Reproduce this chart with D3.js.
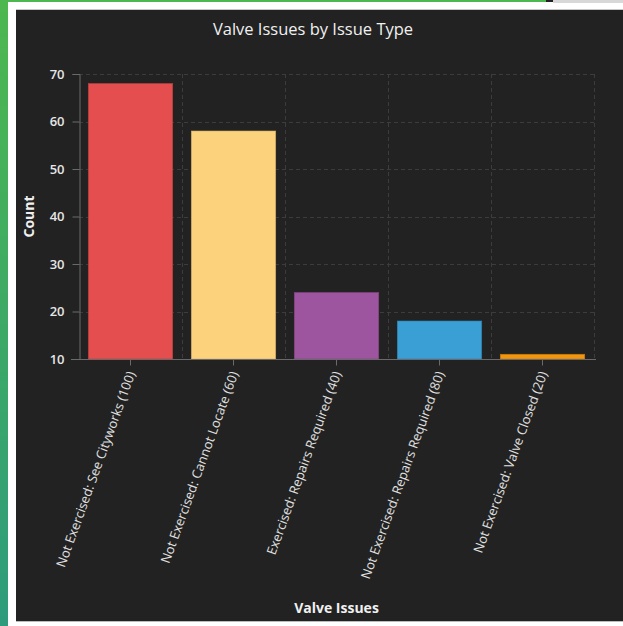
<!DOCTYPE html>
<html>
<head>
<meta charset="utf-8">
<script src="https://cdn.jsdelivr.net/npm/d3@7/dist/d3.min.js"></script>
<style>
html,body{margin:0;padding:0;background:#fff;overflow:hidden;}
svg{display:block;}
</style>
</head>
<body>
<script>
const categories = [
  "Not Exercised: See Cityworks (100)",
  "Not Exercised: Cannot Locate (60)",
  "Exercised: Repairs Required (40)",
  "Not Exercised: Repairs Required (80)",
  "Not Exercised: Valve Closed (20)"
];
const counts = [68, 58, 24, 18, 11];
const barColors = ["#e54e4e", "#fcd27c", "#9e55a0", "#3a9fd4", "#f2960e"];
const yTicks = [10, 20, 30, 40, 50, 60, 70];
const chartTitle = "Valve Issues by Issue Type";
const xTitle = "Valve Issues";
const yTitle = "Count";

const W = 623, H = 626;
const svg = d3.select("body").append("svg").attr("width", W).attr("height", H);

// page frame
const defs = svg.append("defs");
const lg = defs.append("linearGradient").attr("id","gstrip").attr("x1",0).attr("y1",0).attr("x2",0).attr("y2",1);
lg.append("stop").attr("offset","0%").attr("stop-color","#4db84f");
lg.append("stop").attr("offset","100%").attr("stop-color","#2e9c7c");
svg.append("rect").attr("x",0).attr("y",0).attr("width",W).attr("height",H).attr("fill","#fff");
svg.append("rect").attr("x",0).attr("y",0).attr("width",546).attr("height",2).attr("fill","#4db84f");
svg.append("rect").attr("x",546).attr("y",0).attr("width",7).attr("height",2).attr("fill","#222");
svg.append("rect").attr("x",553).attr("y",0).attr("width",70).attr("height",3).attr("fill","#d8d8d8");
svg.append("rect").attr("x",0).attr("y",0).attr("width",8).attr("height",H).attr("fill","url(#gstrip)");
svg.append("rect").attr("x",16).attr("y",9).attr("width",W-16).attr("height",1).attr("fill","#c8c8c8");
svg.append("rect").attr("x",16).attr("y",10).attr("width",W-16).attr("height",611).attr("fill","#222222");
svg.append("rect").attr("x",16).attr("y",621).attr("width",W-16).attr("height",1).attr("fill","#bbbbbb");

// plot area
const x0 = 79, x1 = 594, y0 = 359, y1 = 74;
const x = d3.scaleBand().domain(categories).range([x0, x1]).paddingInner(0.18).paddingOuter(0.09);
const y = d3.scaleLinear().domain([10, 70]).range([y0, y1]);

const g = svg.append("g");
const grid = g.append("g").attr("stroke","#3c3c3c").attr("stroke-dasharray","4,3").attr("stroke-width",1);
yTicks.filter(t => t > 10).forEach(t => {
  grid.append("line").attr("x1",x0).attr("x2",x1).attr("y1",Math.round(y(t))+0.5).attr("y2",Math.round(y(t))+0.5);
});
const bounds = d3.range(1, categories.length + 1).map(i => x0 + i * x.step());
bounds.forEach(bx => {
  grid.append("line").attr("x1",Math.round(bx)+0.5).attr("x2",Math.round(bx)+0.5).attr("y1",y1).attr("y2",y0);
});

// bars
g.selectAll("rect.bar").data(categories).enter().append("rect")
  .attr("class","bar")
  .attr("x", d => x(d))
  .attr("width", x.bandwidth())
  .attr("y", (d,i) => y(counts[i]))
  .attr("height", (d,i) => y0 - y(counts[i]))
  .attr("fill", (d,i) => barColors[i])
  .attr("stroke", (d,i) => d3.color(barColors[i]).darker(0.6))
  .attr("stroke-width", 0.6);

// y axis
const yAxis = g.append("g").attr("transform",`translate(${x0+0.5},0)`)
  .call(d3.axisLeft(y).tickValues(yTicks).tickSize(7).tickPadding(8).tickFormat(d3.format("d")));
yAxis.select(".domain").attr("stroke","#6a6a6a");
yAxis.selectAll(".tick line").attr("stroke","#6a6a6a");
yAxis.selectAll(".tick text").attr("fill","#e6e6e6").attr("font-family","Open Sans, sans-serif")
  .attr("font-size",13).attr("font-weight",600);

// x axis
const xAxis = g.append("g").attr("transform",`translate(0,${y0+0.5})`)
  .call(d3.axisBottom(x).tickSize(6).tickSizeOuter(0));
xAxis.select(".domain").attr("stroke","#6a6a6a").attr("d",`M${x0-8},0H${x1+2}`);
xAxis.selectAll(".tick line").attr("stroke","#6a6a6a");
xAxis.selectAll(".tick text")
  .attr("fill","#e0e0e0").attr("font-family","Open Sans, sans-serif").attr("font-size",13)
  .attr("text-anchor","end").attr("dy",null).attr("y",0)
  .attr("transform","translate(5,14) rotate(-70)");

// titles
svg.append("text").attr("x",313).attr("y",35).attr("text-anchor","middle")
  .attr("fill","#f0f0f0").attr("font-family","Open Sans, sans-serif").attr("font-size",16.5).text(chartTitle);
svg.append("text").attr("x",(x0+x1)/2).attr("y",613).attr("text-anchor","middle")
  .attr("fill","#f0f0f0").attr("font-family","Open Sans, sans-serif").attr("font-size",14).attr("font-weight",700).text(xTitle);
svg.append("text").attr("transform",`translate(34,${(y0+y1)/2}) rotate(-90)`).attr("text-anchor","middle")
  .attr("fill","#f0f0f0").attr("font-family","Open Sans, sans-serif").attr("font-size",14).attr("font-weight",700).text(yTitle);
</script>
</body>
</html>
